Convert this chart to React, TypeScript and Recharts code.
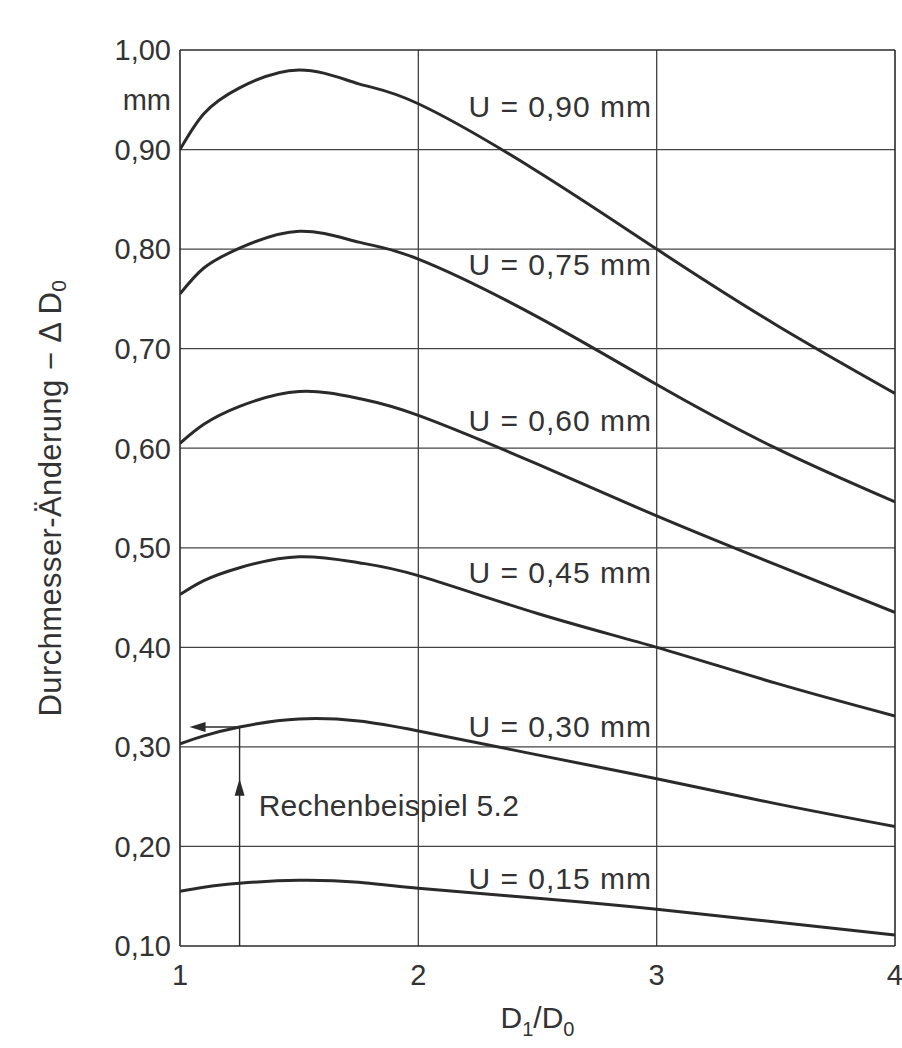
import React from 'react';
import { LineChart, Line, XAxis, YAxis, ReferenceLine, ReferenceDot } from 'recharts';

// D1/D0 ratio positions where the curves were read
const ratio = [1, 1.1, 1.25, 1.5, 1.75, 2, 2.5, 3, 3.5, 4];

// Durchmesser-Änderung −ΔD0 (mm) for each U
const u090 = [0.900, 0.936, 0.962, 0.980, 0.966, 0.946, 0.878, 0.800, 0.724, 0.655];
const u075 = [0.755, 0.781, 0.801, 0.818, 0.807, 0.790, 0.732, 0.664, 0.600, 0.546];
const u060 = [0.605, 0.624, 0.642, 0.657, 0.650, 0.633, 0.584, 0.532, 0.483, 0.435];
const u045 = [0.453, 0.467, 0.480, 0.491, 0.485, 0.472, 0.434, 0.400, 0.364, 0.331];
const u030 = [0.303, 0.311, 0.320, 0.328, 0.326, 0.316, 0.292, 0.268, 0.243, 0.220];
const u015 = [0.155, 0.159, 0.163, 0.166, 0.164, 0.158, 0.148, 0.137, 0.124, 0.111];

const seriesKeys = ['u090', 'u075', 'u060', 'u045', 'u030', 'u015'];
const seriesValues = [u090, u075, u060, u045, u030, u015];

// curve labels
const labelTexts = ['U = 0,90 mm', 'U = 0,75 mm', 'U = 0,60 mm', 'U = 0,45 mm', 'U = 0,30 mm', 'U = 0,15 mm'];
const labelYs = [0.943, 0.785, 0.628, 0.475, 0.32, 0.168];
const labelX = 2.21;

// axes
const xTicks = [1, 2, 3, 4];
const yTicks = [0.1, 0.2, 0.3, 0.4, 0.5, 0.6, 0.7, 0.8, 0.9, 0.95, 1.0];
const unitTick = 0.95;
const gridYs = [0.2, 0.3, 0.4, 0.5, 0.6, 0.7, 0.8, 0.9];
const gridXs = [2, 3];

// Rechenbeispiel 5.2 annotation
const exampleX = 1.25;
const exampleY = 0.32;
const exampleArrowTipY = 0.268;
const exampleArrowTipX = 1.04;
const exampleText = 'Rechenbeispiel 5.2';
const exampleTextPos = { x: 1.33, y: 0.241 };

const data = ratio.map((r, i) => {
  const row: Record<string, number> = { r };
  seriesKeys.forEach((k, j) => {
    row[k] = seriesValues[j][i];
  });
  return row;
});

const FONT = '"Liberation Sans", Arial, Helvetica, sans-serif';
const TEXT = '#333';
const LINE = '#2a2a2a';
const GRID = '#444';

const fmtY = (v: number) => (Math.abs(v - unitTick) < 1e-6 ? 'mm' : v.toFixed(2).replace('.', ','));

const curveLabel = (text: string) => (props: any) => (
  <text
    x={props.cx}
    y={props.cy}
    dominantBaseline="central"
    textAnchor="start"
    fontFamily={FONT}
    fontSize={30}
    letterSpacing={1}
    fill={TEXT}
  >
    {text}
  </text>
);

const upArrow = (props: any) => (
  <polygon
    points={`${props.cx},${props.cy} ${props.cx - 5},${props.cy + 17} ${props.cx + 5},${props.cy + 17}`}
    fill={LINE}
  />
);

const leftArrow = (props: any) => (
  <polygon
    points={`${props.cx},${props.cy} ${props.cx + 16},${props.cy - 5} ${props.cx + 16},${props.cy + 5}`}
    fill={LINE}
  />
);

const plainText = (text: string) => (props: any) => (
  <text
    x={props.cx}
    y={props.cy}
    dominantBaseline="central"
    textAnchor="start"
    fontFamily={FONT}
    fontSize={30}
    letterSpacing={0.3}
    fill={TEXT}
  >
    {text}
  </text>
);

const XLabel = (props: any) => {
  const vb = props.viewBox;
  return (
    <text x={vb.x + vb.width / 2} y={vb.y + 82} textAnchor="middle" fontFamily={FONT} fontSize={30} fill={TEXT}>
      D
      <tspan dy={8} fontSize={20}>1</tspan>
      <tspan dy={-8}>/D</tspan>
      <tspan dy={8} fontSize={20}>0</tspan>
    </text>
  );
};

const YLabel = (props: any) => {
  const vb = props.viewBox;
  const cx = vb.x + 50;
  const cy = vb.y + vb.height / 2;
  return (
    <text
      x={cx}
      y={cy}
      transform={`rotate(-90, ${cx}, ${cy})`}
      textAnchor="middle"
      dominantBaseline="central"
      fontFamily={FONT}
      fontSize={31}
      letterSpacing={0.4}
      fill={TEXT}
    >
      Durchmesser-Änderung − Δ D
      <tspan dy={8} fontSize={21}>0</tspan>
    </text>
  );
};

export default function App() {
  return (
    <div style={{ position: 'absolute', left: 0, top: 0, width: 902, height: 1048, background: '#fff' }}>
      <LineChart width={902} height={1048} data={data} margin={{ top: 50, right: 7, bottom: 0, left: 0 }}>
        <XAxis
          dataKey="r"
          type="number"
          domain={[1, 4]}
          ticks={xTicks}
          allowDataOverflow
          axisLine={false}
          tickLine={false}
          tickSize={0}
          tickMargin={18}
          height={102}
          tick={{ fontSize: 29, fill: TEXT, fontFamily: FONT }}
          label={{ content: XLabel }}
        />
        <YAxis
          type="number"
          domain={[0.1, 1.0]}
          ticks={yTicks}
          allowDataOverflow
          interval={0}
          axisLine={false}
          tickLine={false}
          tickSize={0}
          tickMargin={9}
          width={180}
          tickFormatter={fmtY}
          tick={{ fontSize: 29, fill: TEXT, fontFamily: FONT }}
          label={{ content: YLabel }}
        />
        {gridYs.map((v) => (
          <ReferenceLine key={'gy' + v} y={v} stroke={GRID} strokeWidth={1.3} />
        ))}
        {gridXs.map((v) => (
          <ReferenceLine key={'gx' + v} x={v} stroke={GRID} strokeWidth={1.3} />
        ))}
        <ReferenceLine y={0.1} stroke={LINE} strokeWidth={1.6} />
        <ReferenceLine y={1.0} stroke={LINE} strokeWidth={1.6} />
        <ReferenceLine x={1} stroke={LINE} strokeWidth={1.6} />
        <ReferenceLine x={4} stroke={LINE} strokeWidth={1.6} />

        {seriesKeys.map((k) => (
          <Line
            key={k}
            dataKey={k}
            type="natural"
            stroke={LINE}
            strokeWidth={3}
            dot={false}
            activeDot={false}
            isAnimationActive={false}
          />
        ))}

        {labelTexts.map((t, i) => (
          <ReferenceDot key={'lbl' + i} x={labelX} y={labelYs[i]} r={0} shape={curveLabel(t)} />
        ))}

        <ReferenceLine
          segment={[
            { x: exampleX, y: 0.1 },
            { x: exampleX, y: exampleY },
          ]}
          stroke={LINE}
          strokeWidth={1.4}
        />
        <ReferenceLine
          segment={[
            { x: exampleArrowTipX + 0.05, y: exampleY },
            { x: exampleX, y: exampleY },
          ]}
          stroke={LINE}
          strokeWidth={1.4}
        />
        <ReferenceDot x={exampleX} y={exampleArrowTipY} r={0} shape={upArrow} />
        <ReferenceDot x={exampleArrowTipX} y={exampleY} r={0} shape={leftArrow} />
        <ReferenceDot x={exampleTextPos.x} y={exampleTextPos.y} r={0} shape={plainText(exampleText)} />
      </LineChart>
    </div>
  );
}
